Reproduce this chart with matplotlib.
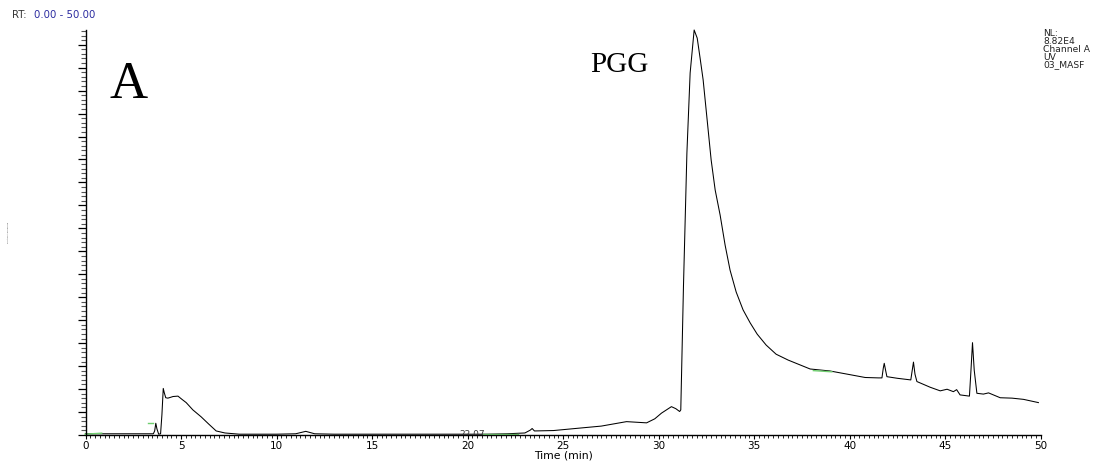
import numpy as np
import matplotlib
matplotlib.use("Agg")
import matplotlib.pyplot as plt
from matplotlib.ticker import MultipleLocator, NullFormatter

# ---- data (time in min, intensity in % of NL) ----
NL = 88200.0
time_min = [0.0, 1.0, 2.0, 3.0, 3.55, 3.62, 3.68, 3.74, 3.83, 3.93, 4.0, 4.07, 4.12, 4.2,
            4.31, 4.45, 4.58, 4.84, 5.05, 5.27, 5.62, 6.05, 6.45, 6.84, 7.3, 8.05, 9.0,
            10.0, 11.0, 11.53, 12.0, 13.0, 15.0, 17.0, 19.0, 21.0, 22.07, 23.0, 23.28,
            23.38, 23.5, 24.5, 25.63, 27.0, 28.32, 29.37, 29.8, 30.15, 30.67, 30.9, 31.1,
            31.16, 31.30, 31.48, 31.65, 31.86, 32.02, 32.17, 32.33, 32.54, 32.75, 32.96,
            33.22, 33.48, 33.74, 34.06, 34.42, 34.79, 35.16, 35.63, 36.15, 36.78,
            37.93, 38.98, 39.9, 40.81, 41.5, 41.69, 41.76,
            41.81, 41.88, 41.95, 42.5, 43.2, 43.26, 43.34, 43.42, 43.52, 44.21, 44.74,
            45.1, 45.43, 45.6, 45.78, 46.27, 46.35, 46.43, 46.52, 46.66, 47.0, 47.27,
            47.88, 48.5, 49.10, 49.88]
rel_pct = [0.3, 0.3, 0.3, 0.3, 0.3, 1.0, 2.9, 1.5, 0.2, 0.3, 5.0, 11.5, 10.5, 9.2,
           9.1, 9.3, 9.5, 9.6, 8.8, 8.0, 6.2, 4.5, 2.7, 1.0, 0.5, 0.2, 0.2,
           0.2, 0.3, 0.9, 0.3, 0.2, 0.2, 0.2, 0.2, 0.2, 0.3, 0.5, 1.2,
           1.6, 1.0, 1.1, 1.6, 2.2, 3.3, 3.0, 4.0, 5.4, 7.0, 6.5, 5.8,
           6.2, 36.6, 69.6, 89.4, 100.0, 98.0, 93.1, 87.7, 77.8, 67.9, 60.5,
           54.3, 46.9, 40.7, 35.3, 30.9, 27.7, 24.9, 22.2, 19.95, 18.5,
           16.3, 15.8, 15.0, 14.2, 14.1, 14.1, 16.5,
           17.7, 16.0, 14.4, 14.0, 13.6, 15.5, 18.0, 15.0, 13.2, 11.8, 10.9,
           11.3, 10.7, 11.2, 9.9, 9.6, 16.0, 22.8, 16.0, 10.3, 10.1, 10.4,
           9.2, 9.1, 8.8, 8.0]

# baseline markers (green)
base_marks_t = [[-0.03, 0.85], [3.29, 3.55], [20.83, 22.66], [38.10, 39.07]]
base_marks_r = [[0.2, 0.45], [3.0, 3.0], [0.25, 0.25], [15.9, 15.6]]

x_ticks = [0, 5, 10, 15, 20, 25, 30, 35, 40, 45, 50]
x_ticklabels = [str(v) for v in x_ticks]

W, H = 1106, 463
fig = plt.figure(figsize=(W / 100, H / 100), dpi=100)
ax = fig.add_axes([85.5 / W, 28 / H, 955.2 / W, 405 / H])

y = np.array(rel_pct) * NL / 100.0
ax.plot(time_min, y, color="black", lw=0.75, clip_on=False)
for tt, rr in zip(base_marks_t, base_marks_r):
    ax.plot(tt, np.array(rr) * NL / 100.0, color="#6fcf6f", lw=1.0, clip_on=False)

ax.set_xlim(0, 50)
ax.set_ylim(0, NL)

for s in ["top", "right"]:
    ax.spines[s].set_visible(False)
ax.spines["left"].set_linewidth(1.0)
ax.spines["bottom"].set_linewidth(1.0)

ax.set_xticks(x_ticks)
ax.set_xticklabels(x_ticklabels)
ax.xaxis.set_minor_locator(MultipleLocator(0.25))
ax.yaxis.set_major_locator(MultipleLocator(5000))
ax.yaxis.set_minor_locator(MultipleLocator(1000))
ax.yaxis.set_major_formatter(NullFormatter())
ax.tick_params(axis="x", which="major", length=3, width=0.8, labelsize=7.5, pad=1.2)
ax.tick_params(axis="x", which="minor", length=1.8, width=0.6)
ax.tick_params(axis="y", which="major", length=5.8, width=0.9)
ax.tick_params(axis="y", which="minor", length=3.6, width=0.8, color="#555555")

ax.set_xlabel("Time (min)", fontsize=7.8, va="top")
ax.xaxis.set_label_coords(0.5, (435 - 450.5) / 405)

# peak label partly hidden under the axis
ax.text(20.22, 1.25 * NL / 100, "22.07", fontsize=6.5, ha="center", va="top",
        color="#333333", clip_on=True)

# header texts
fig.text(11.7 / W, 1 - 15.5 / H, "RT:", fontsize=7.3, color="#333333",
         ha="left", va="center")
fig.text(34 / W, 1 - 15.5 / H, "0.00 - 50.00", fontsize=7.3, color="#2b2ba0",
         ha="left", va="center")

nl_lines = ["NL:", "8.82E4", "Channel A", "UV", "03_MASF"]
for i, line in enumerate(nl_lines):
    fig.text(1043 / W, 1 - (33.7 + 7.8 * i) / H, line, fontsize=6.6,
             color="#222222", ha="left", va="center")

fig.text(8 / W, 1 - 232 / H, "Relative Abundance", fontsize=1.5, rotation=90,
         color="#444444", ha="center", va="center")

# annotations
fig.text(110 / W, 1 - 98 / H, "A", fontsize=38, family="Liberation Serif",
         ha="left", va="baseline")
fig.text(590 / W, 1 - 72 / H, "PGG", fontsize=21, family="Liberation Serif",
         ha="left", va="baseline")

fig.savefig("out.png", dpi=100)
